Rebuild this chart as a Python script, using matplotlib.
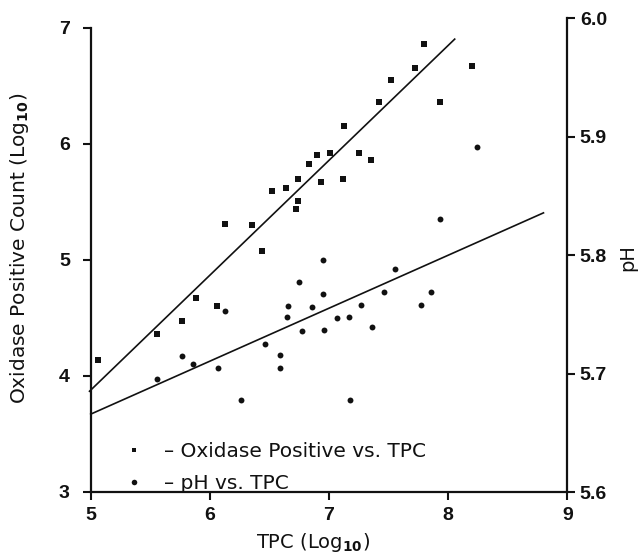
import matplotlib
matplotlib.use("Agg")
import matplotlib.pyplot as plt
from matplotlib.lines import Line2D
import numpy as np

INK = "#111111"
TICK_FONT = "Liberation Sans"
LABEL_FONT = "DejaVu Sans"

# oxidase positive count vs TPC (both log10)
ox_tpc = [5.06, 5.56, 5.77, 5.88, 6.06, 6.13, 6.35, 6.44, 6.52, 6.64,
          6.74, 6.74, 6.72, 6.83, 6.90, 6.93, 7.01, 7.13, 7.12, 7.25,
          7.35, 7.42, 7.52, 7.72, 7.80, 7.93, 8.20]
ox_count = [4.14, 4.36, 4.47, 4.67, 4.60, 5.31, 5.30, 5.08, 5.59, 5.62,
            5.70, 5.51, 5.44, 5.83, 5.90, 5.67, 5.92, 6.15, 5.70, 5.92,
            5.86, 6.36, 6.55, 6.65, 6.86, 6.36, 6.67]

# pH vs TPC
ph_tpc = [5.56, 5.77, 5.86, 6.07, 6.13, 6.26, 6.46, 6.59, 6.59, 6.66,
          6.65, 6.75, 6.77, 6.86, 6.95, 6.95, 6.96, 7.07, 7.17, 7.18,
          7.27, 7.36, 7.46, 7.55, 7.77, 7.86, 7.93, 8.24]
ph_val = [5.695, 5.715, 5.708, 5.705, 5.753, 5.678, 5.725, 5.716, 5.705, 5.757,
          5.748, 5.777, 5.736, 5.756, 5.796, 5.767, 5.737, 5.747, 5.748, 5.678,
          5.758, 5.739, 5.769, 5.788, 5.758, 5.769, 5.830, 5.891]

# regression lines (slope, intercept, x range)
ox_fit = (0.990, -1.072, 4.99, 8.055)
ph_fit = (0.0447, 5.4422, 5.0, 8.80)

x_ticks = [5, 6, 7, 8, 9]
left_ticks = [3, 4, 5, 6, 7]
right_ticks = [5.6, 5.7, 5.8, 5.9, 6.0]

W, H = 639, 554
fig = plt.figure(figsize=(W / 100, H / 100), dpi=100, facecolor="white")
ax = fig.add_axes([90.7 / W, 62 / H, 476.6 / W, 474 / H])
ax2 = ax.twinx()

ax.set_xlim(5, 9)
ax.set_ylim(3, 3 + 474 / 116.05)
ax2.set_ylim(5.6, 6.0)

ax.scatter(ox_tpc, ox_count, marker="s", s=14, color=INK, linewidths=0, zorder=3)
ax2.scatter(ph_tpc, ph_val, marker="o", s=18, color=INK, linewidths=0, zorder=3)

for a, (m, b, x0, x1) in ((ax, ox_fit), (ax2, ph_fit)):
    xs = np.array([x0, x1])
    a.plot(xs, m * xs + b, color=INK, lw=1.2, clip_on=False)

# axes styling
for a in (ax, ax2):
    a.spines["top"].set_visible(False)
    for sp in a.spines.values():
        sp.set_linewidth(1.6)
        sp.set_color(INK)
ax.spines["right"].set_visible(False)
ax2.spines["left"].set_visible(False)
ax2.spines["bottom"].set_visible(False)
ax.spines["left"].set_bounds(3, 7)

ax.set_xticks(x_ticks)
ax.set_yticks(left_ticks)
ax2.set_yticks(right_ticks)
ax2.set_yticklabels([f"{v:.1f}" for v in right_ticks])

ax.tick_params(axis="both", direction="out", length=6, width=1.5, color=INK,
               labelsize=14, labelcolor=INK)
ax.tick_params(axis="x", pad=5)
ax.tick_params(axis="y", pad=9)
ax2.tick_params(axis="y", direction="out", length=6, width=1.5, color=INK,
                labelsize=14, labelcolor=INK, pad=3)
for lbl in ax.get_xticklabels() + ax.get_yticklabels() + ax2.get_yticklabels():
    lbl.set_fontfamily(TICK_FONT)
    lbl.set_fontweight("bold")

# axis titles
fig.text(313 / W, 1 - 543 / H, r"TPC (Log$_{\mathbf{10}}$)", ha="center", va="center",
         fontsize=14, family=LABEL_FONT, color=INK)
fig.text(20 / W, 1 - 248 / H, r"Oxidase Positive Count (Log$_{\mathbf{10}}$)",
         rotation=90, ha="center", va="center", fontsize=14.5, family=LABEL_FONT, color=INK)
fig.text(628 / W, 1 - 258 / H, "pH", rotation=90, ha="center", va="center",
         fontsize=14, family=LABEL_FONT, color=INK)

# legend
handles = [Line2D([], [], ls="none", marker="s", ms=3.4, color=INK, mew=0),
           Line2D([], [], ls="none", marker="o", ms=4.0, color=INK, mew=0)]
labels = ["\u2013 Oxidase Positive vs. TPC", "\u2013 pH vs. TPC"]
leg = ax2.legend(handles, labels, loc="lower left", frameon=False,
                 bbox_to_anchor=(125.8 / W, 61 / H), bbox_transform=fig.transFigure,
                 borderaxespad=0, borderpad=0, handlelength=0.8, handletextpad=1.1,
                 labelspacing=0.65, prop={"family": LABEL_FONT, "size": 14.5})
for t in leg.get_texts():
    t.set_color(INK)

fig.savefig("out.png", dpi=100, facecolor="white")
